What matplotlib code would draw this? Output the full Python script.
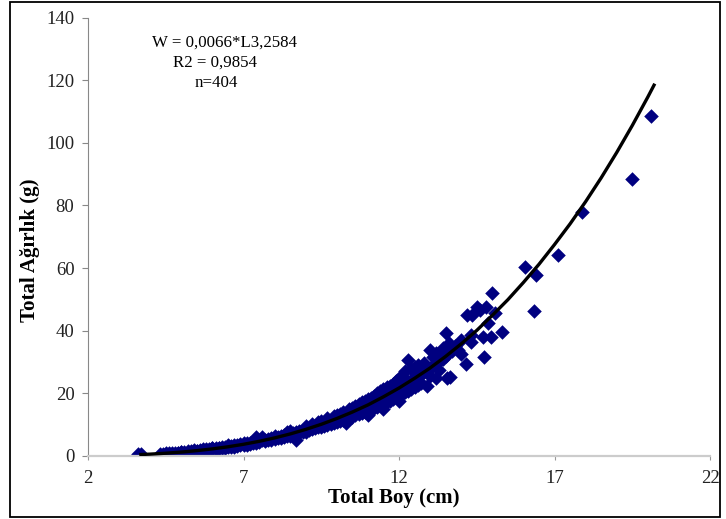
import matplotlib.pyplot as plt
from matplotlib.patches import Rectangle

# total length (cm) and total weight (g)
boy = [3.6, 3.7,
       4.3, 4.4, 4.5, 4.5, 4.6, 4.7, 4.7, 4.8, 4.9, 4.9,
       5.0, 5.0, 5.1, 5.2, 5.2, 5.3, 5.3, 5.4, 5.4, 5.5, 5.5,
       5.6, 5.6, 5.7, 5.7, 5.8, 5.8, 5.9, 5.9, 6.0, 6.0, 6.0,
       6.1, 6.1, 6.2, 6.2, 6.3, 6.3, 6.4, 6.4, 6.5, 6.5, 6.5,
       6.6, 6.6, 6.7, 6.7, 6.8, 6.8, 6.9, 6.9, 7.0, 7.0, 7.0,
       7.1, 7.1, 7.2, 7.2, 7.3, 7.3, 7.4, 7.4, 7.4, 7.5, 7.5, 7.6, 7.6,
       7.7, 7.7, 7.8, 7.8, 7.9, 7.9, 8.0, 8.0, 8.0,
       8.1, 8.1, 8.2, 8.2, 8.3, 8.3, 8.4, 8.4, 8.4, 8.5, 8.5, 8.5,
       8.6, 8.6, 8.7, 8.7, 8.7, 8.8, 8.8, 8.9, 8.9, 9.0, 9.0, 9.0,
       9.1, 9.1, 9.2, 9.2, 9.2, 9.3, 9.3, 9.4, 9.4, 9.4, 9.5, 9.5, 9.5,
       9.6, 9.6, 9.7, 9.7, 9.7, 9.8, 9.8, 9.9, 9.9, 9.9, 10.0, 10.0, 10.0,
       10.1, 10.1, 10.1, 10.2, 10.2, 10.2, 10.3, 10.3, 10.3, 10.4, 10.4, 10.4,
       10.5, 10.5, 10.5,
       10.6, 10.6, 10.6, 10.7, 10.7, 10.7, 10.8, 10.8, 10.8, 10.9, 10.9, 10.9,
       11.0, 11.0, 11.0, 11.0,
       11.1, 11.1, 11.1, 11.2, 11.2, 11.2, 11.3, 11.3, 11.3, 11.4, 11.4, 11.4,
       11.5, 11.5, 11.5, 11.5,
       11.6, 11.6, 11.6, 11.7, 11.7, 11.7, 11.8, 11.8, 11.8, 11.9, 11.9, 11.9,
       12.0, 12.0, 12.0, 12.0,
       12.1, 12.1, 12.1, 12.2, 12.2, 12.2, 12.3, 12.3, 12.3, 12.4, 12.4, 12.4,
       12.5, 12.5, 12.5,
       12.6, 12.6, 12.6, 12.7, 12.7, 12.8, 12.8, 12.9, 12.9, 13.0, 13.0, 13.0,
       13.1, 13.1, 13.2, 13.2, 13.2, 13.3, 13.3, 13.4, 13.4, 13.5, 13.5, 13.55,
       13.6, 13.65, 13.7, 13.8, 13.9, 14.0, 14.0,
       14.16, 14.2, 14.3, 14.3, 14.35, 14.5, 14.6, 14.7, 14.73, 14.8, 14.86,
       14.95, 15.0, 15.1, 15.3,
       16.04, 16.4, 16.33, 17.1, 17.9, 19.5, 20.1]
agirlik = [0.6, 0.6,
           0.6, 0.7, 0.8, 0.6, 0.8, 0.9, 0.7, 1.0, 1.0, 0.8,
           1.2, 1.4, 1.3, 1.5, 1.2, 1.6, 1.4, 1.5, 1.8, 1.7, 1.5,
           1.9, 1.6, 2.0, 2.2, 2.1, 1.9, 2.3, 2.0, 2.4, 2.1, 2.6,
           2.5, 2.3, 2.7, 2.4, 2.8, 2.5, 3.0, 2.7, 3.1, 2.8, 3.4,
           3.2, 2.9, 3.4, 3.0, 3.6, 3.3, 3.7, 3.4, 3.9, 3.5, 4.2,
           4.0, 3.6, 4.3, 3.9, 4.5, 4.1, 4.6, 4.3, 6.0, 4.9, 4.5, 6.2, 5.0,
           5.2, 4.8, 5.5, 5.0, 5.7, 5.2, 6.0, 5.5, 6.5,
           6.1, 5.6, 6.3, 5.9, 6.6, 6.1, 6.9, 6.3, 7.6, 7.2, 6.5, 7.9,
           7.4, 6.8, 7.7, 5.0, 7.0, 8.0, 7.3, 8.3, 7.6, 8.7, 7.8, 9.5,
           8.9, 8.2, 9.3, 8.5, 10.2, 9.6, 8.8, 10.0, 9.1, 11.0, 10.3, 9.4, 11.2,
           10.6, 9.6, 11.0, 10.0, 12.0, 11.3, 10.3, 11.7, 10.6, 12.8, 12.0, 10.9, 13.2,
           12.4, 11.2, 13.5, 12.8, 11.5, 14.0, 13.2, 11.9, 10.5, 13.6, 12.3, 15.0,
           14.1, 12.6, 15.4,
           14.5, 13.0, 16.0, 14.9, 13.4, 16.5, 15.3, 13.8, 17.2, 15.8, 14.2, 17.5,
           16.3, 14.6, 18.2, 13.0,
           16.8, 15.0, 18.6, 17.3, 15.4, 19.3, 17.8, 15.8, 20.0, 18.4, 16.3, 20.6,
           18.9, 16.8, 21.3, 15.0,
           19.5, 17.3, 22.0, 20.0, 17.7, 22.5, 20.6, 18.2, 23.0, 21.2, 18.7, 24.0,
           21.8, 19.2, 24.8, 17.5,
           22.4, 19.8, 25.5, 23.0, 20.3, 27.0, 23.6, 20.8, 30.7, 24.2, 21.4, 27.8,
           24.8, 22.0, 28.5,
           25.5, 22.6, 29.0, 26.1, 23.2, 26.8, 29.8, 27.5, 22.4, 28.2, 33.9, 25.5,
           28.8, 31.5, 25.0, 33.0, 29.5, 30.2, 27.5, 31.0, 34.5, 39.3, 32.0, 25.0,
           36.0, 25.2, 33.5, 35.0, 34.0, 37.0, 32.5,
           29.4, 45.0, 36.5, 38.5, 45.0, 47.6, 46.5, 38.0, 31.6, 47.5, 42.5,
           38.0, 52.2, 45.7, 39.6,
           60.4, 57.8, 46.3, 64.2, 78.0, 88.5, 108.6]

# power trend line as drawn in the chart
egri_boy = [3.7, 4.0, 4.5, 5.0, 5.5, 6.0, 6.5, 7.0, 7.5, 8.0, 8.5, 9.0, 9.5,
            10.0, 10.5, 11.0, 11.5, 12.0, 12.5, 13.0, 13.5, 14.0, 14.5, 15.0,
            15.5, 16.0, 16.5, 17.0, 17.5, 18.0, 18.5, 19.0, 19.5, 20.0, 20.2]
egri_agirlik = [0.47, 0.60, 0.89, 1.25, 1.71, 2.27, 2.94, 3.74, 4.68, 5.78,
                7.04, 8.49, 10.12, 11.97, 14.03, 16.3, 18.9, 21.7, 24.8, 28.1,
                31.8, 35.8, 40.1, 44.9, 49.9, 55.4, 61.2, 67.5, 74.1, 81.2,
                88.8, 96.9, 105.5, 114.6, 118.4]

x_ticks = [2, 7, 12, 17, 22]
y_ticks = [0, 20, 40, 60, 80, 100, 120, 140]

plt.rcParams['font.family'] = ['Liberation Serif', 'DejaVu Serif']

fig = plt.figure(figsize=(7.26, 5.19), dpi=100)
ax = fig.add_axes([88 / 726, 1 - 456 / 519, 622 / 726, 438.5 / 519])

ax.scatter(boy, agirlik, marker='D', s=55, color='#000080', linewidths=0, zorder=2)
ax.plot(egri_boy, egri_agirlik, color='black', lw=2.4, zorder=3)

ax.set_xlim(2, 22)
ax.set_ylim(0, 140)
ax.set_xticks(x_ticks)
ax.set_yticks(y_ticks)
ax.tick_params(labelsize=13.5, width=0.8)
ax.tick_params(axis='x', colors='#999999', labelcolor='#222222', length=3, pad=7)
ax.tick_params(axis='y', colors='#888888', labelcolor='#222222', length=4.3, pad=5.5)
for s in ['top', 'right']:
    ax.spines[s].set_visible(False)
ax.spines['left'].set_color('#888888')
ax.spines['left'].set_linewidth(0.8)
ax.spines['bottom'].set_color('#cccccc')
ax.spines['bottom'].set_linewidth(1.6)

fig.text(394 / 726, 1 - 498 / 519, 'Total Boy (cm)', fontsize=15,
         fontweight='bold', ha='center', va='center')
fig.text(30 / 726, 1 - 250 / 519, 'Total Ağırlık (g)', fontsize=15,
         fontweight='bold', ha='center', va='center', rotation=90)

fig.text(224 / 726, 1 - 43 / 519, 'W = 0,0066*L3,2584', fontsize=12.2,
         ha='center', va='center')
fig.text(215 / 726, 1 - 63 / 519, 'R2 = 0,9854', fontsize=12.2,
         ha='center', va='center')
fig.text(216 / 726, 1 - 83 / 519, 'n=404', fontsize=12.2,
         ha='center', va='center')

fig.patches.append(Rectangle((10 / 726, 2 / 519), 710 / 726, 515 / 519,
                             transform=fig.transFigure, fill=False,
                             edgecolor='black', lw=1.3))

fig.savefig('out.png', dpi=100)
